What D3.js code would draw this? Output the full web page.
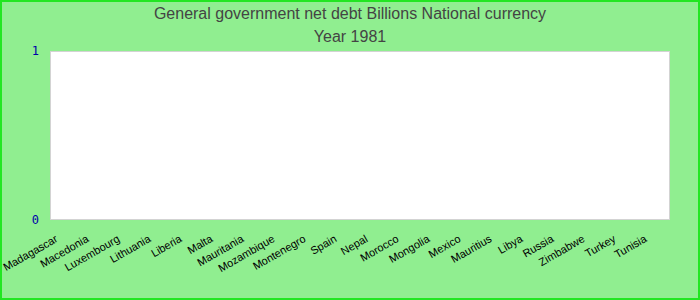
<!DOCTYPE html>
<html lang="en">
<head>
<meta charset="UTF-8">
<title>General government net debt</title>
<style>
  body { margin: 0; }
  svg { display: block; }
</style>
</head>
<body>
<script src="https://d3js.org/d3.v7.min.js"></script>
<script>
    // Chart data
    let countries = ["Madagascar", "Macedonia", "Luxembourg", "Lithuania", "Liberia", "Malta", "Mauritania",
        "Mozambique", "Montenegro", "Spain", "Nepal", "Morocco", "Mongolia", "Mexico", "Mauritius",
        "Libya", "Russia", "Zimbabwe", "Turkey", "Tunisia"];
    // no values reported for 1981
    let debt = [0, 0, 0, 0, 0, 0, 0, 0, 0, 0, 0, 0, 0, 0, 0, 0, 0, 0, 0, 0];
    let yTicks = [0, 1];

    let width = 700, height = 300;
    let margin = {top: 51, right: 30, bottom: 80, left: 50};

    let svg = d3.select('body')
        .append('svg')
        .attr('width', width)
        .attr('height', height);

    // background + outer border
    svg.append('rect')
        .attr('x', 1).attr('y', 1)
        .attr('width', width - 2).attr('height', height - 2)
        .attr('fill', '#90ee90')
        .attr('stroke', '#22e622')
        .attr('stroke-width', 2);

    // titles
    svg.append('text')
        .attr('x', width / 2).attr('y', 19)
        .attr('text-anchor', 'middle')
        .style('font-family', 'Liberation Sans, Arial, sans-serif')
        .style('font-size', '16px')
        .attr('fill', '#444')
        .text('General government net debt Billions National currency');
    svg.append('text')
        .attr('x', width / 2).attr('y', 42)
        .attr('text-anchor', 'middle')
        .style('font-family', 'Liberation Sans, Arial, sans-serif')
        .style('font-size', '16px')
        .attr('fill', '#444')
        .text('Year 1981');

    let x = d3.scaleBand()
        .domain(countries)
        .range([margin.left, width - margin.right]);

    let y = d3.scaleLinear()
        .domain([0, 1])
        .range([height - margin.bottom, margin.top]);

    // plot area
    svg.append('rect')
        .attr('x', margin.left + 0.5).attr('y', margin.top + 0.5)
        .attr('width', width - margin.left - margin.right - 1)
        .attr('height', height - margin.top - margin.bottom - 1)
        .attr('fill', 'white')
        .attr('stroke', '#d3d3d3');

    // bars (empty for this year)
    svg.selectAll('.bar')
        .data(debt)
        .enter()
        .append('rect')
        .attr('class', 'bar')
        .attr('x', function(d, i) { return x(countries[i]) + 2; })
        .attr('width', x.bandwidth() - 4)
        .attr('y', function(d) { return y(d); })
        .attr('height', function(d) { return y(0) - y(d); })
        .attr('fill', '#4682b4');

    // y axis
    let yAxis = svg.append('g')
        .attr('transform', 'translate(' + (margin.left - 8) + ',0)')
        .call(d3.axisLeft(y).tickValues(yTicks).tickSize(0).tickFormat(d3.format('d')));
    yAxis.select('.domain').remove();
    yAxis.selectAll('text')
        .attr('fill', '#0000aa')
        .style('font-family', 'DejaVu Sans Mono, monospace')
        .style('font-size', '12px');

    // x axis
    let xAxis = svg.append('g')
        .attr('transform', 'translate(0,' + (height - margin.bottom) + ')')
        .call(d3.axisBottom(x).tickSize(0));
    xAxis.select('.domain').remove();
    xAxis.selectAll('text')
        .attr('fill', 'black')
        .style('font-family', 'Liberation Sans, Arial, sans-serif')
        .style('font-size', '11px')
        .attr('text-anchor', 'end')
        .attr('x', 0).attr('y', 0).attr('dy', 0)
        .attr('transform', 'translate(-7,21) rotate(-30)');
</script>
</body>
</html>
